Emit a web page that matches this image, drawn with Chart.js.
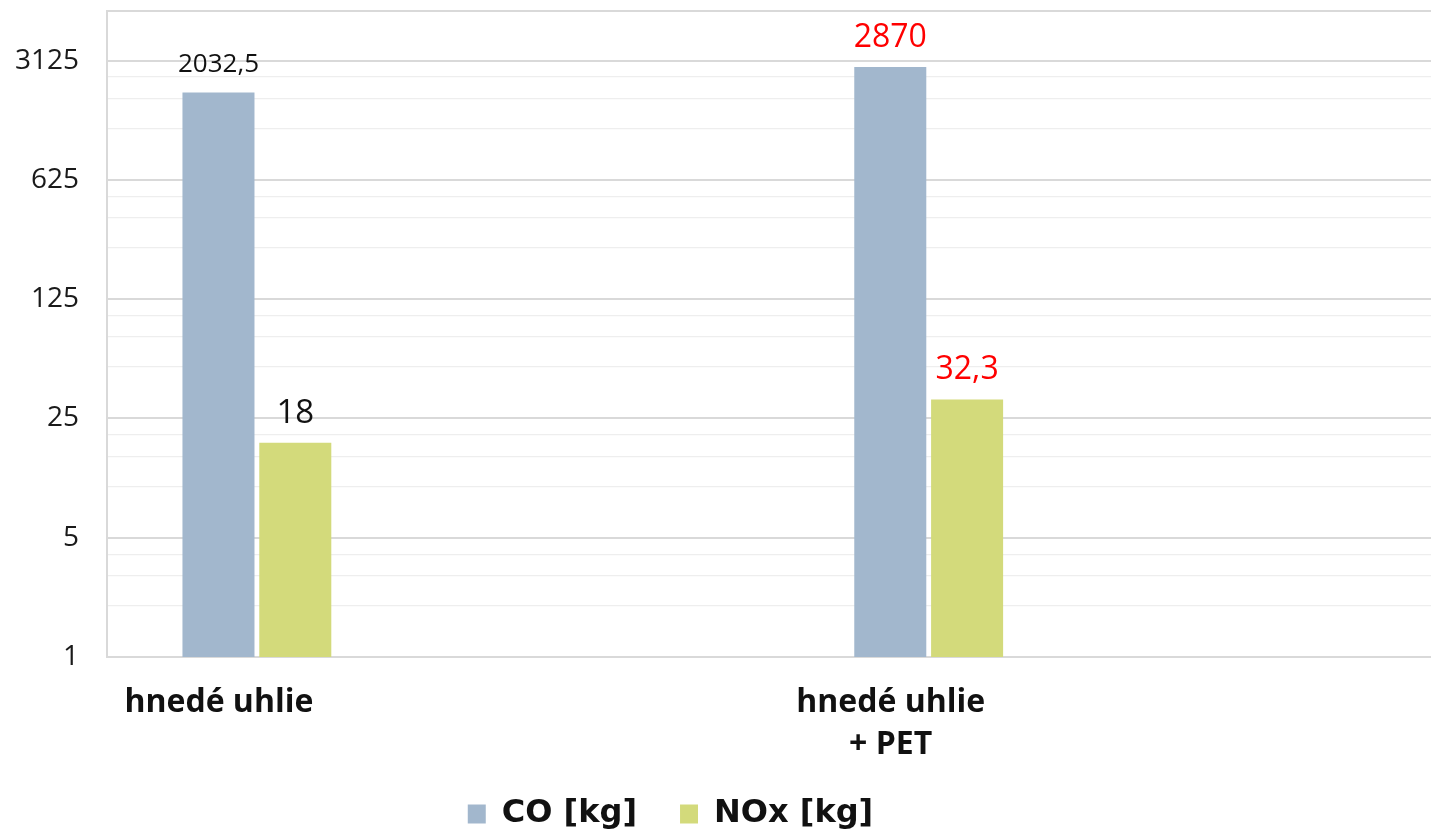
<!DOCTYPE html>
<html>
<head>
<meta charset="utf-8">
<script src="https://cdn.jsdelivr.net/npm/chart.js@4.4.0/dist/chart.umd.min.js"></script>
<style>
  html, body { margin: 0; padding: 0; background: #ffffff; }
  #wrap { width: 1431px; height: 831px; position: relative; }
</style>
</head>
<body>
<div id="wrap"><canvas id="c"></canvas></div>
<script>
// ---- data ----
const categories = [['hnedé uhlie'], ['hnedé uhlie', '+ PET']];
const seriesNames = ['CO [kg]', 'NOx [kg]'];
const coValues = [2032.5, 2870];
const noxValues = [18, 32.3];
const yTickValues = [1, 5, 25, 125, 625, 3125];
const yAxisMax = 6100;

// ---- styles ----
const coColor = '#a2b7cd';
const noxColor = '#d3da7b';
const majorGrid = '#d9d9d9';
const minorGrid = '#eeeeee';
const labelStyles = [
  [{ color: '#111111', size: 26 }, { color: '#ff0000', size: 32 }],
  [{ color: '#111111', size: 33 }, { color: '#ff0000', size: 32 }]
];

const minorTicks = yTickValues.slice(0, -1).flatMap(v => [2, 3, 4].map(m => v * m));
const allYTicks = [...yTickValues, ...minorTicks, yAxisMax].sort((a, b) => a - b);

const fmt = v => String(v).replace('.', ',');

const valueLabels = {
  id: 'valueLabels',
  afterDatasetsDraw(chart, args, opts) {
    const ctx = chart.ctx;
    chart.data.datasets.forEach((ds, di) => {
      const meta = chart.getDatasetMeta(di);
      meta.data.forEach((bar, i) => {
        const st = opts.styles[di][i];
        ctx.save();
        ctx.font = `${st.size}px "Open Sans"`;
        ctx.fillStyle = st.color;
        ctx.textAlign = 'center';
        ctx.textBaseline = 'alphabetic';
        ctx.fillText(fmt(ds.data[i].y), bar.x, bar.y - opts.gap);
        ctx.restore();
      });
    });
  }
};

const shiftLegend = {
  id: 'shiftLegend',
  afterLayout(chart, args, opts) {
    const l = chart.legend;
    if (!l) return;
    l.left += opts.dx; l.right += opts.dx;
    l.top += opts.dy; l.bottom += opts.dy;
  }
};

new Chart(document.getElementById('c'), {
  type: 'bar',
  data: {
    datasets: [
      {
        label: seriesNames[0],
        data: categories.map((c, i) => ({ x: i, y: coValues[i] })),
        backgroundColor: coColor,
        borderWidth: 0
      },
      {
        label: seriesNames[1],
        data: categories.map((c, i) => ({ x: i, y: noxValues[i] })),
        backgroundColor: noxColor,
        borderWidth: 0
      }
    ]
  },
  options: {
    responsive: true,
    maintainAspectRatio: false,
    animation: false,
    layout: { padding: { top: 11, left: 0, right: 0, bottom: -21 } },
    datasets: { bar: { barPercentage: 0.9375, categoryPercentage: 0.2287 } },
    scales: {
      x: {
        type: 'linear',
        min: -0.2231,
        max: 1.7477,
        offset: false,
        grid: { display: false, drawTicks: false },
        border: { display: true, color: majorGrid, width: 2 },
        afterBuildTicks: s => { s.ticks = categories.map((c, i) => ({ value: i })); },
        afterFit: s => { s.height = 110; s.paddingLeft = 0; s.paddingRight = 0; },
        ticks: {
          autoSkip: false,
          maxRotation: 0,
          minRotation: 0,
          padding: 25,
          labelOffset: -38,
          color: '#111111',
          font: { family: 'Open Sans', weight: 'bold', size: 32, lineHeight: 1.3 },
          callback: v => categories[v]
        }
      },
      y: {
        type: 'logarithmic',
        min: 1,
        max: yAxisMax,
        grid: {
          drawTicks: false,
          color: c => (yTickValues.includes(c.tick.value) || c.tick.value === yAxisMax) ? majorGrid : minorGrid,
          lineWidth: c => (yTickValues.includes(c.tick.value) || c.tick.value === yAxisMax) ? 2 : 1.3
        },
        border: { display: true, color: majorGrid, width: 2 },
        afterBuildTicks: s => { s.ticks = allYTicks.map(v => ({ value: v })); },
        afterFit: s => { s.width = 107; s.paddingTop = 0; s.paddingBottom = 0; },
        ticks: {
          autoSkip: false,
          padding: 28,
          color: '#1a1a1a',
          font: { family: 'Open Sans', size: 28 },
          callback: v => yTickValues.includes(v) ? String(v) : ''
        }
      }
    },
    plugins: {
      legend: {
        position: 'bottom',
        labels: {
          boxWidth: 18,
          boxHeight: 19,
          padding: 43,
          color: '#111111',
          font: { family: 'DejaVu Sans', weight: 'bold', size: 32 }
        }
      },
      tooltip: { enabled: false },
      valueLabels: { styles: labelStyles, gap: 20 },
      shiftLegend: { dx: -45, dy: -12 }
    }
  },
  plugins: [valueLabels, shiftLegend]
});
</script>
</body>
</html>
